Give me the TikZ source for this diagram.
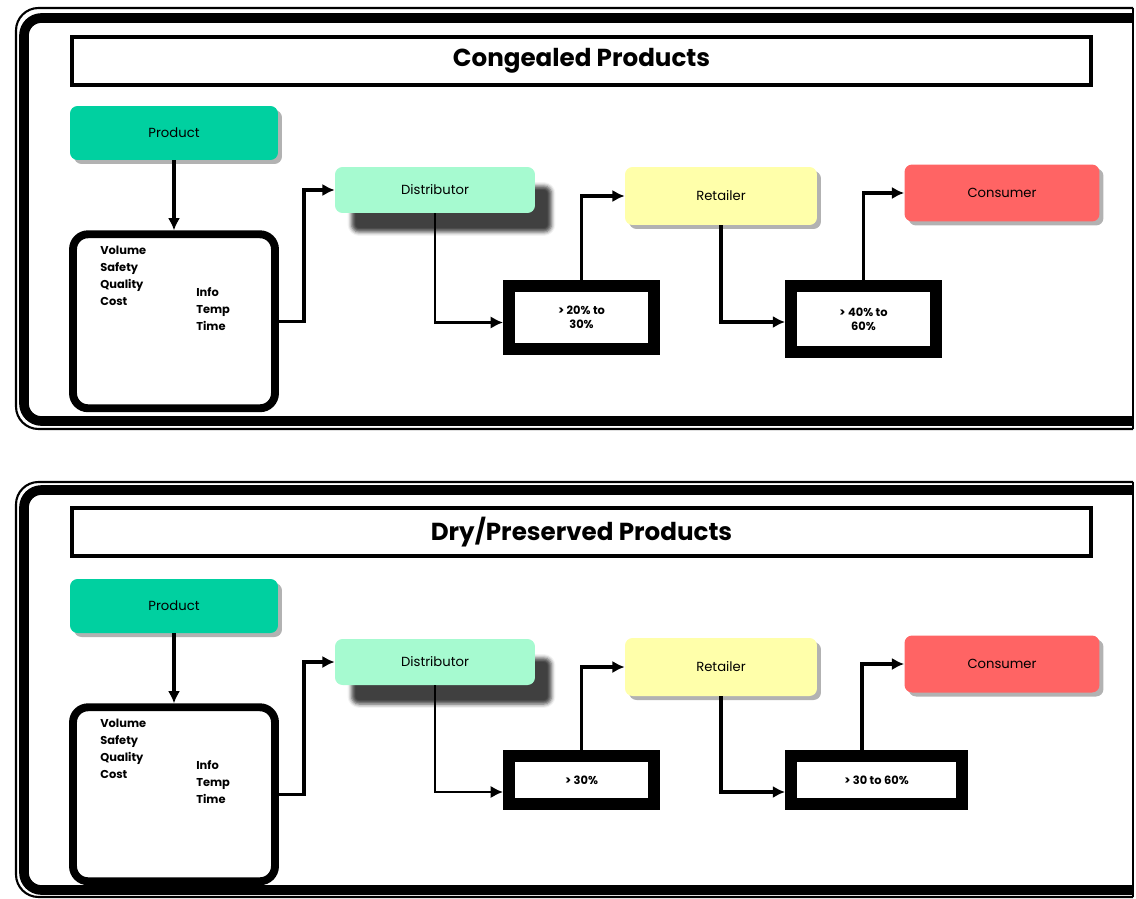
\documentclass[tikz,border=0pt]{standalone}
\usepackage{fontspec}
\setmainfont{Poppins}
\usepackage{tikz}
\usetikzlibrary{arrows.meta, positioning, shadows, shadows.blur}

\definecolor{prodgreen}{RGB}{0,208,160}
\definecolor{distmint}{RGB}{166,250,208}
\definecolor{retyellow}{RGB}{255,255,170}
\definecolor{consred}{RGB}{255,100,100}

\tikzset{>={Latex[length=7pt,width=7pt]}}
\tikzset{flow-line/.style={line width=2pt}}
\tikzset{frame-thick/.style={line width=5.5pt, rounded corners=0.35cm}}
\tikzset{frame-thin/.style={line width=1.2pt, rounded corners=0.45cm}}
\tikzset{title-node/.style={draw, line width=2.3pt, minimum width=20.38cm, minimum height=0.96cm, inner sep=0, font=\fontsize{14}{16}\selectfont\bfseries}}
\tikzset{stage-node/.style={rounded corners=0.15cm, inner sep=0, font=\fontsize{7.5}{9}\selectfont}}
\tikzset{soft-shadow/.style={drop shadow={shadow xshift=0.08cm, shadow yshift=-0.08cm, fill=black, opacity=0.3}}}
\tikzset{info-node/.style={draw, line width=4.5pt, rounded corners=0.3cm, minimum width=4.04cm, minimum height=3.48cm, inner sep=0}}
\tikzset{level-node/.style={draw, line width=6.8pt, inner sep=0, align=center, font=\fontsize{6.5}{8}\selectfont\bfseries}}
\tikzset{list-text/.style={inner sep=0, align=left, font=\fontsize{6.5}{9.6}\selectfont\bfseries}}

\begin{document}
\begin{tikzpicture}[x=0.02cm, y=-0.02cm]
    \useasboundingbox (0,0) rectangle (1136,899);

    % congealed products
    \draw[frame-thin] (1133,8) -- (16,8) -- (16,429) -- (1133,429);
    \draw[line width=1.2pt] (1133,8) -- (1133,429);
    \draw[frame-thick] (1133,18) -- (24,18) -- (24,421) -- (1133,421);

    \node[title-node] (title1) at (581.5,61) {Congealed Products};

    \node[stage-node, fill=prodgreen, minimum width=4.16cm, minimum height=1.08cm, soft-shadow] (prod1) at (174,133) {Product};
    \node[info-node, below=1.4cm of prod1] (info1) {};
    \node[list-text, anchor=north west] (factors1) at (100,246) {Volume\\Safety\\Quality\\Cost};
    \node[list-text, anchor=north west] (specs1) at (196,287) {Info\\Temp\\Time};

    \node[stage-node, fill=distmint, minimum width=4cm, minimum height=0.92cm, blur shadow={shadow xshift=0.33cm, shadow yshift=-0.38cm, shadow opacity=75}] (dist1) at (435,190) {Distributor};
    \node[level-node, minimum width=2.9cm, minimum height=1.26cm] (lvlA1) at (581.5,317.5) {> 20\% to\\30\%};
    \node[stage-node, fill=retyellow, minimum width=3.84cm, minimum height=1.16cm, soft-shadow] (ret1) at (721,196) {Retailer};
    \node[level-node, minimum width=2.9cm, minimum height=1.32cm] (lvlB1) at (863.5,319) {> 40\% to\\60\%};
    \node[stage-node, fill=consred, minimum width=3.9cm, minimum height=1.14cm, soft-shadow] (cons1) at (1002,193) {Consumer};

    \draw[->, flow-line] (prod1.south) -- (info1.north);
    \draw[->, flow-line] (info1.east) -- ++(25,0) |- (dist1.west);
    \draw[->, line width=1.3pt] (dist1.south) |- ([yshift=-0.1cm]lvlA1.west);
    \draw[->, flow-line] (lvlA1.north) |- (ret1.west);
    \draw[->, flow-line] (ret1.south) |- ([yshift=-0.06cm]lvlB1.west);
    \draw[->, flow-line] (lvlB1.north) |- (cons1.west);

    % dry / preserved products
    \begin{scope}[shift={(0,472)}]
        \draw[frame-thin] (1133,10) -- (16,10) -- (16,425) -- (1133,425);
        \draw[line width=1.2pt] (1133,10) -- (1133,425);
        \draw[frame-thick] (1133,18) -- (24,18) -- (24,418) -- (1133,418);

        \node[title-node] (title2) at (581.5,60) {Dry/Preserved Products};

        \node[stage-node, fill=prodgreen, minimum width=4.16cm, minimum height=1.08cm, soft-shadow] (prod2) at (174,134) {Product};
        \node[info-node, below=1.4cm of prod2] (info2) {};
        \node[list-text, anchor=north west] (factors2) at (100,247) {Volume\\Safety\\Quality\\Cost};
        \node[list-text, anchor=north west] (specs2) at (196,288) {Info\\Temp\\Time};

        \node[stage-node, fill=distmint, minimum width=4cm, minimum height=0.92cm, blur shadow={shadow xshift=0.33cm, shadow yshift=-0.38cm, shadow opacity=75}] (dist2) at (435,190) {Distributor};
        \node[level-node, minimum width=2.9cm, minimum height=0.96cm] (lvlA2) at (581.5,308) {> 30\%};
        \node[stage-node, fill=retyellow, minimum width=3.84cm, minimum height=1.16cm, soft-shadow] (ret2) at (721,195) {Retailer};
        \node[level-node, minimum width=3.42cm, minimum height=0.96cm] (lvlB2) at (876.5,308) {> 30 to 60\%};
        \node[stage-node, fill=consred, minimum width=3.9cm, minimum height=1.14cm, soft-shadow] (cons2) at (1002,192) {Consumer};

        \draw[->, flow-line] (prod2.south) -- (info2.north);
        \draw[->, flow-line] (info2.east) -- ++(25,0) |- (dist2.west);
        \draw[->, line width=1.3pt] (dist2.south) |- ([yshift=-0.24cm]lvlA2.west);
        \draw[->, flow-line] (lvlA2.north) |- (ret2.west);
        \draw[->, flow-line] (ret2.south) |- ([yshift=-0.24cm]lvlB2.west);
        \draw[->, flow-line] ([xshift=-0.29cm]lvlB2.north) |- (cons2.west);
    \end{scope}
\end{tikzpicture}
\end{document}
